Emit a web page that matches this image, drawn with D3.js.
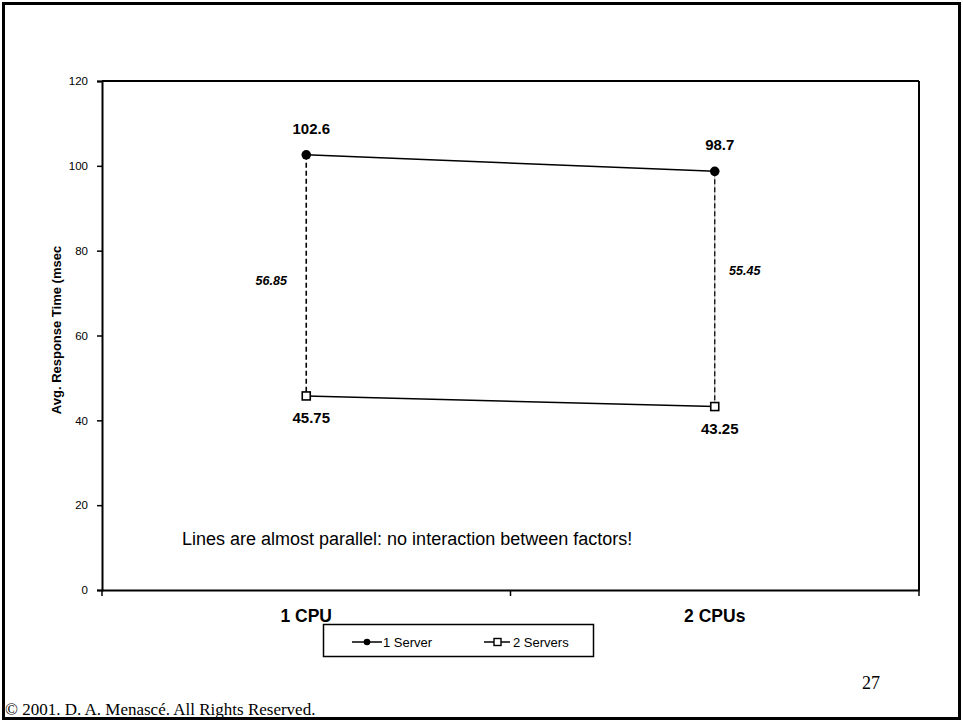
<!DOCTYPE html>
<html>
<head>
<meta charset="utf-8">
<script src="https://cdn.jsdelivr.net/npm/d3@7"></script>
<style>
  body { margin: 0; background: #fff; }
  svg { display: block; }
</style>
</head>
<body>
<svg id="chart" width="963" height="722"></svg>
<script>
const categories = ["1 CPU", "2 CPUs"];
const seriesNames = ["1 Server", "2 Servers"];
const oneServer = [102.6, 98.7];
const twoServers = [45.75, 43.25];
const differences = ["56.85", "55.45"];
const yTicks = [0, 20, 40, 60, 80, 100, 120];
const yTitle = "Avg. Response Time (msec";
const note = "Lines are almost parallel: no interaction between factors!";
const pageNumber = "27";
const copyright = "© 2001. D. A. Menascé. All Rights Reserved.";

const svg = d3.select("#chart");
const W = 963, H = 722;
const sans = "Liberation Sans, Arial, sans-serif";
const serif = "Liberation Serif, Times New Roman, serif";

// slide border
svg.append("rect").attr("x", 3.5).attr("y", 3.5).attr("width", W - 7).attr("height", H - 7)
  .attr("fill", "none").attr("stroke", "#000").attr("stroke-width", 3);

const pLeft = 102, pRight = 919, pTop = 81, pBottom = 590;

const x = d3.scaleBand().domain(categories).range([pLeft, pRight]);
const y = d3.scaleLinear().domain([0, 120]).range([pBottom, pTop]);
const cx = d => x(d) + x.bandwidth() / 2;

// plot frame top & right
svg.append("line").attr("x1", pLeft).attr("x2", pRight).attr("y1", pTop).attr("y2", pTop)
  .attr("stroke", "#000").attr("stroke-width", 2);
svg.append("line").attr("x1", pRight).attr("x2", pRight).attr("y1", pTop).attr("y2", pBottom)
  .attr("stroke", "#000").attr("stroke-width", 2);

// y axis
const yAxis = svg.append("g").attr("transform", `translate(${pLeft},0)`)
  .call(d3.axisLeft(y).tickValues(yTicks).tickSize(5).tickPadding(9).tickFormat(d3.format("d")));
yAxis.select(".domain").attr("stroke-width", 2);
yAxis.selectAll(".tick line").attr("stroke-width", 1.5);
yAxis.selectAll("text").attr("font-family", sans).attr("font-size", 11.5).attr("fill", "#000");

// x axis
const xAxis = svg.append("g").attr("transform", `translate(0,${pBottom})`)
  .call(d3.axisBottom(x).tickSize(0).tickFormat(""));
xAxis.select(".domain").attr("stroke-width", 2);
const bounds = [pLeft, x(categories[1]), pRight];
svg.selectAll(".btick").data(bounds).enter().append("line")
  .attr("x1", d => d).attr("x2", d => d).attr("y1", pBottom).attr("y2", pBottom + 6)
  .attr("stroke", "#000").attr("stroke-width", 1.5);

// category labels
svg.selectAll(".cat").data(categories).enter().append("text")
  .attr("x", d => cx(d)).attr("y", 622).attr("text-anchor", "middle")
  .attr("font-family", sans).attr("font-weight", "bold")
  .attr("font-size", 17.5).text(d => d);

// y title
svg.append("text").attr("transform", "translate(61,330) rotate(-90)")
  .attr("text-anchor", "middle").attr("font-family", sans)
  .attr("font-weight", "bold").attr("font-size", 13).text(yTitle);

// difference lines
categories.forEach((c, i) => {
  if (i === 1) {
    svg.append("line").attr("x1", cx(c)).attr("x2", cx(c))
      .attr("y1", y(oneServer[i])).attr("y2", y(twoServers[i]))
      .attr("stroke", "#aaa").attr("stroke-width", 1);
  }
  svg.append("line").attr("x1", cx(c)).attr("x2", cx(c))
    .attr("y1", y(oneServer[i])).attr("y2", y(twoServers[i]))
    .attr("stroke", "#000").attr("stroke-width", i === 0 ? 1.6 : 1.2)
    .attr("stroke-dasharray", "5,3");
});

// series lines
const line = d3.line().x((d, i) => cx(categories[i])).y(d => y(d));
svg.append("path").datum(oneServer).attr("d", line).attr("fill", "none")
  .attr("stroke", "#000").attr("stroke-width", 1.5);
svg.append("path").datum(twoServers).attr("d", line).attr("fill", "none")
  .attr("stroke", "#000").attr("stroke-width", 1.5);

// markers
svg.selectAll(".dot").data(oneServer).enter().append("circle")
  .attr("cx", (d, i) => cx(categories[i])).attr("cy", d => y(d)).attr("r", 4.8).attr("fill", "#000");
svg.selectAll(".sq").data(twoServers).enter().append("rect")
  .attr("x", (d, i) => cx(categories[i]) - 4).attr("y", d => y(d) - 4)
  .attr("width", 8).attr("height", 8).attr("fill", "#fff").attr("stroke", "#000").attr("stroke-width", 1.6);

// value labels
svg.selectAll(".v1").data(oneServer).enter().append("text")
  .attr("x", (d, i) => cx(categories[i]) + 5).attr("y", d => y(d) - 21)
  .attr("text-anchor", "middle").attr("font-family", sans).attr("font-weight", "bold")
  .attr("font-size", 15).text(d => d);
svg.selectAll(".v2").data(twoServers).enter().append("text")
  .attr("x", (d, i) => cx(categories[i]) + 5).attr("y", d => y(d) + 27)
  .attr("text-anchor", "middle").attr("font-family", sans).attr("font-weight", "bold")
  .attr("font-size", 15).text(d => d);

// difference labels
svg.selectAll(".dl").data(differences).enter().append("text")
  .attr("x", (d, i) => cx(categories[i]) + (i === 0 ? -35 : 30))
  .attr("y", (d, i) => (i === 0 ? 285 : 275))
  .attr("text-anchor", "middle").attr("font-family", sans).attr("font-weight", "bold")
  .attr("font-style", "italic").attr("font-size", 12.5).text(d => d);

// note
svg.append("text").attr("x", 182).attr("y", 545).attr("font-family", sans)
  .attr("font-size", 18).text(note);

// legend
svg.append("rect").attr("x", 323.5).attr("y", 624.5).attr("width", 270).attr("height", 32)
  .attr("fill", "#fff").attr("stroke", "#000").attr("stroke-width", 1.5);
const legY = 642;
svg.append("line").attr("x1", 352).attr("x2", 382).attr("y1", legY).attr("y2", legY)
  .attr("stroke", "#000").attr("stroke-width", 1.5);
svg.append("circle").attr("cx", 367).attr("cy", legY).attr("r", 3.3).attr("fill", "#000");
svg.append("text").attr("x", 383).attr("y", legY + 4.7).attr("font-family", sans)
  .attr("font-size", 13).text(seriesNames[0]);
svg.append("line").attr("x1", 484).attr("x2", 510).attr("y1", legY).attr("y2", legY)
  .attr("stroke", "#000").attr("stroke-width", 1.5);
svg.append("rect").attr("x", 494).attr("y", legY - 3.5).attr("width", 7).attr("height", 7)
  .attr("fill", "#fff").attr("stroke", "#000").attr("stroke-width", 1.4);
svg.append("text").attr("x", 513).attr("y", legY + 4.7).attr("font-family", sans)
  .attr("font-size", 13).text(seriesNames[1]);

// page number & copyright
svg.append("text").attr("x", 862).attr("y", 689).attr("font-family", serif)
  .attr("font-size", 18).text(pageNumber);
svg.append("text").attr("x", 5).attr("y", 715).attr("font-family", serif)
  .attr("font-size", 17).text(copyright);
</script>
</body>
</html>
